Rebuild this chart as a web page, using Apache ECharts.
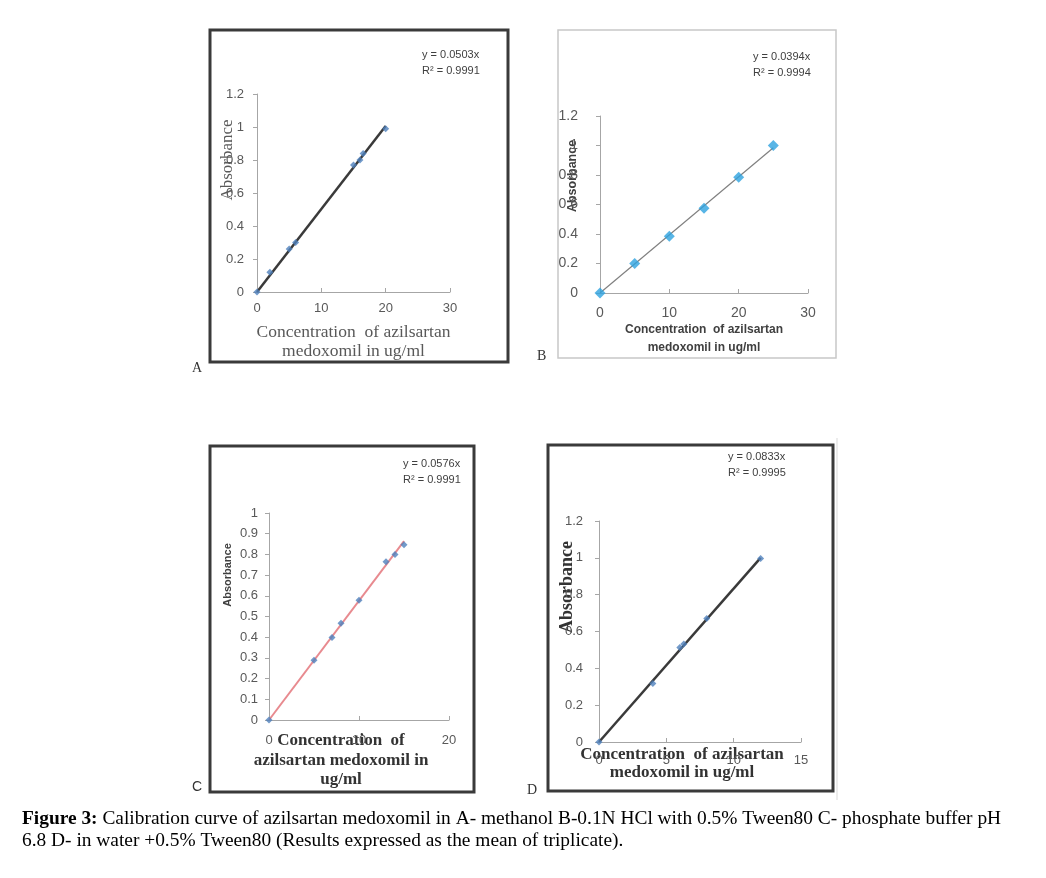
<!DOCTYPE html>
<html>
<head>
<meta charset="utf-8">
<script src="https://cdn.jsdelivr.net/npm/echarts@6/dist/echarts.min.js"></script>
<style>
  html, body { margin: 0; padding: 0; background: #fff; }
  #main { width: 1046px; height: 878px; }
</style>
</head>
<body>
<div id="main"></div>
<script>
// panel A - methanol
var concA = [0, 2, 5, 6, 15, 16, 16.5, 20];
var absA = [0, 0.12, 0.26, 0.30, 0.77, 0.80, 0.84, 0.99];
var trendA = [[0, 0], [20, 1.006]];
// panel B - 0.1N HCl + 0.5% Tween80
var concB = [0, 5, 10, 15, 20, 25];
var absB = [0, 0.20, 0.385, 0.575, 0.785, 1.0];
var trendB = [[0, 0], [25, 0.985]];
// panel C - phosphate buffer pH 6.8
var concC = [0, 5, 7, 8, 10, 13, 14, 15];
var absC = [0, 0.289, 0.398, 0.467, 0.579, 0.764, 0.80, 0.847];
var trendC = [[0, 0], [15, 0.864]];
// panel D - water + 0.5% Tween80
var concD = [0, 4, 6, 6.3, 8, 12];
var absD = [0, 0.317, 0.513, 0.532, 0.67, 0.997];
var trendD = [[0, 0], [12, 1.0]];

var eqA = ['y = 0.0503x', 'R² = 0.9991'];
var eqB = ['y = 0.0394x', 'R² = 0.9994'];
var eqC = ['y = 0.0576x', 'R² = 0.9991'];
var eqD = ['y = 0.0833x', 'R² = 0.9995'];

var caption1 = 'Calibration curve of azilsartan medoxomil in A- methanol B-0.1N HCl with 0.5% Tween80 C- phosphate buffer pH';
var caption2 = '6.8 D- in water +0.5% Tween80 (Results expressed as the mean of triplicate).';

function pairs(xs, ys) {
  return xs.map(function (x, i) { return [x, ys[i]]; });
}

var sans = 'Liberation Sans';
var serif = 'Liberation Serif';
var tickColor = '#595959';
var axisGray = '#a6a6a6';

function xAx(idx, max, interval, labelSize, margin, name, nameStyle, nameGap) {
  return {
    type: 'value', gridIndex: idx, min: 0, max: max, interval: interval,
    axisLine: { show: true, lineStyle: { color: axisGray, width: 1 } },
    axisTick: { show: true, inside: true, length: 4, lineStyle: { color: axisGray } },
    axisLabel: { color: tickColor, fontFamily: sans, fontSize: labelSize, margin: margin },
    splitLine: { show: false },
    name: name, nameLocation: 'middle', nameGap: nameGap, nameMoveOverlap: false,
    nameTextStyle: nameStyle
  };
}

function yAx(idx, max, interval, labelSize, margin) {
  return {
    type: 'value', gridIndex: idx, min: 0, max: max, interval: interval,
    axisLine: { show: true, lineStyle: { color: axisGray, width: 1 } },
    axisTick: { show: true, inside: false, length: 4, lineStyle: { color: axisGray } },
    axisLabel: { color: tickColor, fontFamily: sans, fontSize: labelSize, margin: margin },
    splitLine: { show: false }
  };
}

function pts(idx, data, size, color) {
  return {
    type: 'scatter', xAxisIndex: idx, yAxisIndex: idx, data: data,
    symbol: 'diamond', symbolSize: size, itemStyle: { color: color }, z: 3
  };
}

function trend(idx, data, color, width) {
  return {
    type: 'line', xAxisIndex: idx, yAxisIndex: idx, data: data,
    symbol: 'none', lineStyle: { color: color, width: width }, z: 2
  };
}

function box(x, y, w, h, color, lw) {
  return { type: 'rect', shape: { x: x, y: y, width: w, height: h },
    style: { fill: 'none', stroke: color, lineWidth: lw }, silent: true };
}

function txt(x, y, text, font, color) {
  return { type: 'text', x: x, y: y,
    style: { text: text, font: font, fill: color, textAlign: 'left', textVerticalAlign: 'middle' } };
}

function ytitle(cx, cy, font, color) {
  return { type: 'text', x: cx, y: cy, rotation: Math.PI / 2,
    style: { text: 'Absorbance', font: font, fill: color, textAlign: 'center', textVerticalAlign: 'middle' } };
}

function eq(x, y, lines) {
  return [
    txt(x, y, lines[0], '11px ' + sans, '#404040'),
    txt(x, y + 16, lines[1], '11px ' + sans, '#404040')
  ];
}

var chart = echarts.init(document.getElementById('main'));

var option = {
  backgroundColor: '#fff',
  animation: false,
  grid: [
    { left: 257, top: 94, width: 193, height: 198 },
    { left: 600, top: 116, width: 208, height: 177 },
    { left: 269, top: 513, width: 180, height: 207 },
    { left: 599, top: 521, width: 202, height: 221 }
  ],
  xAxis: [
    xAx(0, 30, 10, 13, 10, 'Concentration  of azilsartan\nmedoxomil in ug/ml',
      { color: '#595959', fontFamily: serif, fontSize: 17.5, lineHeight: 19 }, 31),
    xAx(1, 30, 10, 14, 13, 'Concentration  of azilsartan\nmedoxomil in ug/ml',
      { color: '#404040', fontFamily: sans, fontWeight: 'bold', fontSize: 12, lineHeight: 18 }, 28),
    xAx(2, 20, 10, 13, 14, 'Concentration  of\nazilsartan medoxomil in\nug/ml',
      { color: '#333', fontFamily: serif, fontWeight: 'bold', fontSize: 17, lineHeight: 19.5, padding: [0, 36, 0, 0] }, 11),
    xAx(3, 15, 5, 13, 12, 'Concentration  of azilsartan\nmedoxomil in ug/ml',
      { color: '#333', fontFamily: serif, fontWeight: 'bold', fontSize: 17, lineHeight: 18, padding: [0, 36, 0, 0] }, 4)
  ],
  yAxis: [
    yAx(0, 1.2, 0.2, 13, 13),
    yAx(1, 1.2, 0.2, 14, 22),
    yAx(2, 1, 0.1, 13, 11),
    yAx(3, 1.2, 0.2, 13, 16)
  ],
  series: [
    trend(0, trendA, '#3a3a3a', 2.5),
    pts(0, pairs(concA, absA), 7, '#4f81bd'),
    trend(1, trendB, '#808080', 1.2),
    pts(1, pairs(concB, absB), 11, '#2ea3e0'),
    trend(2, trendC, '#e88a8f', 2),
    pts(2, pairs(concC, absC), 7, '#4f81bd'),
    trend(3, trendD, '#3a3a3a', 2.5),
    pts(3, pairs(concD, absD), 7, '#4f81bd')
  ],
  graphic: [
    box(210, 30, 298, 332, '#3a3a3a', 3),
    box(558, 30, 278, 328, '#c8c8c8', 1.5),
    box(210, 446, 264, 346, '#3a3a3a', 3),
    box(548, 445, 285, 346, '#3a3a3a', 3),
    { type: 'line', shape: { x1: 837, y1: 438, x2: 837, y2: 800 },
      style: { stroke: '#e6e6e6', lineWidth: 1.5 }, silent: true },
    txt(192, 368, 'A', '14px ' + serif, '#333'),
    txt(537, 356, 'B', '14px ' + serif, '#333'),
    txt(192, 787, 'C', '14px ' + sans, '#333'),
    txt(527, 790, 'D', '14px ' + serif, '#333'),
    ytitle(228, 160, '17px ' + serif, '#595959'),
    ytitle(573, 176, 'bold 12.5px ' + sans, '#404040'),
    ytitle(228, 575, 'bold 11px ' + sans, '#404040'),
    ytitle(567, 587, 'bold 18px ' + serif, '#333')
  ].concat(eq(422, 55, eqA), eq(753, 57, eqB), eq(403, 464, eqC), eq(728, 457, eqD), [
    { type: 'text', x: 22, y: 830,
      style: {
        text: '{b|Figure 3:} ' + caption1 + '\n' + caption2,
        font: '19.4px ' + serif, fill: '#000', textVerticalAlign: 'middle',
        lineHeight: 22,
        rich: { b: { fontFamily: serif, fontWeight: 'bold', fontSize: 19.4, fill: '#000' } }
      } }
  ])
};

chart.setOption(option);
</script>
</body>
</html>
